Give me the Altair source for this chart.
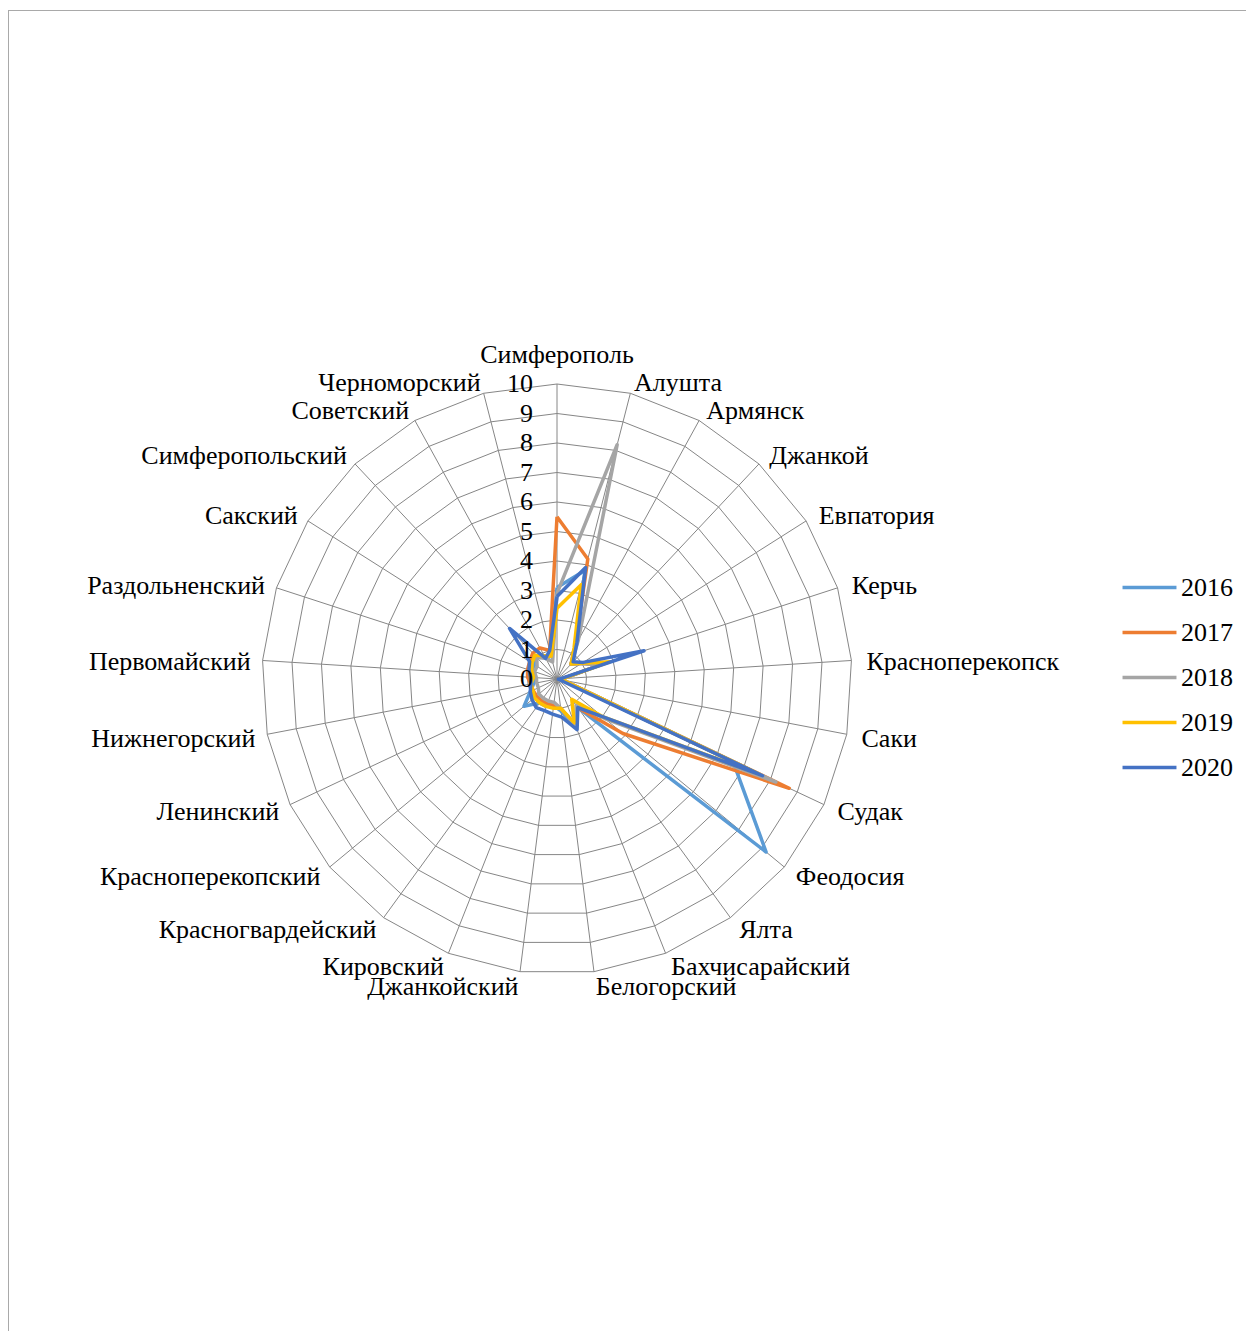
import math
import altair as alt
import pandas as pd

categories = ["Симферополь", "Алушта", "Армянск", "Джанкой", "Евпатория", "Керчь",
              "Красноперекопск", "Саки", "Судак", "Феодосия", "Ялта", "Бахчисарайский",
              "Белогорский", "Джанкойский", "Кировский", "Красногвардейский",
              "Красноперекопский", "Ленинский", "Нижнегорский", "Первомайский",
              "Раздольненский", "Сакский", "Симферопольский", "Советский", "Черноморский"]
years = ["2016", "2017", "2018", "2019", "2020"]
v2016 = [3.1, 3.8, 1.3, 0.7, 1.0, 1.5, 0.2, 0.2, 6.6, 9.2, 1.2, 1.7, 1.1, 0.9, 1.0, 1.0, 1.45, 1.0, 0.8, 0.8, 0.9, 0.9, 1.1, 0.8, 0.8]
v2017 = [5.5, 4.2, 1.3, 0.7, 1.0, 1.6, 0.2, 0.2, 8.7, 2.9, 1.2, 1.7, 1.0, 0.9, 0.9, 0.9, 0.9, 0.9, 0.9, 1.0, 1.05, 1.1, 1.2, 1.2, 1.0]
v2018 = [2.9, 8.2, 1.5, 0.7, 1.0, 1.5, 0.2, 0.2, 8.2, 2.1, 1.1, 1.7, 1.0, 0.8, 0.8, 0.8, 0.8, 0.7, 0.7, 0.7, 0.8, 0.8, 1.0, 0.8, 0.6]
v2019 = [2.4, 3.3, 1.2, 0.7, 1.0, 1.9, 0.2, 0.2, 7.6, 2.0, 0.85, 1.6, 1.0, 1.0, 1.0, 1.0, 1.0, 0.9, 0.9, 0.8, 0.9, 1.0, 1.1, 0.9, 0.8]
v2020 = [2.8, 3.9, 1.4, 0.8, 1.05, 3.1, 0.1, 0.05, 7.7, 2.0, 1.2, 1.85, 1.3, 1.2, 1.15, 1.2, 1.1, 1.0, 0.9, 0.9, 1.0, 1.1, 2.35, 0.8, 1.0]
series = [v2016, v2017, v2018, v2019, v2020]
colors = ["#5B9BD5", "#ED7D31", "#A5A5A5", "#FFC000", "#4472C4"]
levels = list(range(0, 11))

FONT = "Liberation Serif"
W, H = 1238, 1323
PX = 29.5
CX, CY = 549, 671
xdom = [-CX / PX, (W - CX) / PX]
ydom = [(CY - H) / PX, CY / PX]
xs = alt.Scale(domain=xdom, nice=False, zero=False)
ys = alt.Scale(domain=ydom, nice=False, zero=False)

n = len(categories)
ang = [2 * math.pi * i / n for i in range(n)]


def X(f):
    return alt.X(f, type="quantitative", scale=xs, axis=None)


def Y(f):
    return alt.Y(f, type="quantitative", scale=ys, axis=None)


# grid rings
ring_rows = []
for lv in levels[1:]:
    for k in range(n + 1):
        a = ang[k % n]
        ring_rows.append({"level": lv, "idx": k, "x": lv * math.sin(a), "y": lv * math.cos(a)})
rings = alt.Chart(pd.DataFrame(ring_rows)).mark_line(color="#868686", strokeWidth=1).encode(
    x=X("x"), y=Y("y"), detail="level:N", order="idx:Q")

# spokes
spoke_rows = [{"x0": 0.0, "y0": 0.0, "x1": 10 * math.sin(a), "y1": 10 * math.cos(a)} for a in ang]
spokes = alt.Chart(pd.DataFrame(spoke_rows)).mark_rule(color="#868686", strokeWidth=1).encode(
    x=X("x0"), y=Y("y0"), x2="x1", y2="y1")

# series
ser_rows = []
for yr, vals in zip(years, series):
    for k in range(n + 1):
        a = ang[k % n]
        v = vals[k % n]
        ser_rows.append({"year": yr, "idx": k, "x": v * math.sin(a), "y": v * math.cos(a)})
lines = alt.Chart(pd.DataFrame(ser_rows)).mark_line(strokeWidth=3.5, strokeJoin="round").encode(
    x=X("x"), y=Y("y"),
    color=alt.Color("year:N", scale=alt.Scale(domain=years, range=colors),
                    legend=alt.Legend(orient="none", legendX=1119, legendY=557, title=None,
                                      labelFont=FONT, labelFontSize=26, labelColor="black",
                                      symbolType="M-1.3,0H1.3", symbolSize=1722,
                                      symbolStrokeWidth=3.5, labelOffset=9, rowPadding=9,
                                      padding=0)),
    order="idx:Q")

# tick labels
tick_df = pd.DataFrame({"lv": levels, "x": [0.0] * len(levels), "lab": [str(v) for v in levels]})
ticks = alt.Chart(tick_df).mark_text(align="right", baseline="middle", dx=-24, font=FONT,
                                     fontSize=26, color="black").encode(
    x=X("x"), y=Y("lv"), text="lab:N")

# category labels
lab_rows = []
for c, a in zip(categories, ang):
    s, co = math.sin(a), math.cos(a)
    if abs(s) < 0.01:
        side = "c"
        dxp, dyp = 0.0, -29.0
    elif s > 0:
        side = "r"
        dxp, dyp = 15 * s, -13 * co + 2
    else:
        side = "l"
        dxp, dyp = 12 * s, -13 * co + 2
    lab_rows.append({"cat": c, "side": side,
                     "x": 10 * s + dxp / PX, "y": 10 * co - dyp / PX})
lab_df = pd.DataFrame(lab_rows)
lab_layers = []
for side, al in [("r", "left"), ("l", "right"), ("c", "center")]:
    lab_layers.append(
        alt.Chart(lab_df).transform_filter(alt.datum.side == side)
        .mark_text(align=al, baseline="middle", font=FONT, fontSize=26, color="black")
        .encode(x=X("x"), y=Y("y"), text="cat:N"))

one = pd.DataFrame({"a": [0]})
border_top = alt.Chart(one).mark_rule(color="#A9A9A9", strokeWidth=1).encode(
    x=alt.value(0), x2=alt.value(W), y=alt.value(2.5))
border_left = alt.Chart(one).mark_rule(color="#A9A9A9", strokeWidth=1).encode(
    x=alt.value(0.5), y=alt.value(2), y2=alt.value(H))

chart = alt.layer(rings, spokes, lines, ticks, *lab_layers, border_top, border_left).properties(
    width=W, height=H, padding=0, autosize="none", background="white"
).configure_view(stroke=None)

chart.save("out.html", embed_options={"renderer": "svg", "actions": False})
